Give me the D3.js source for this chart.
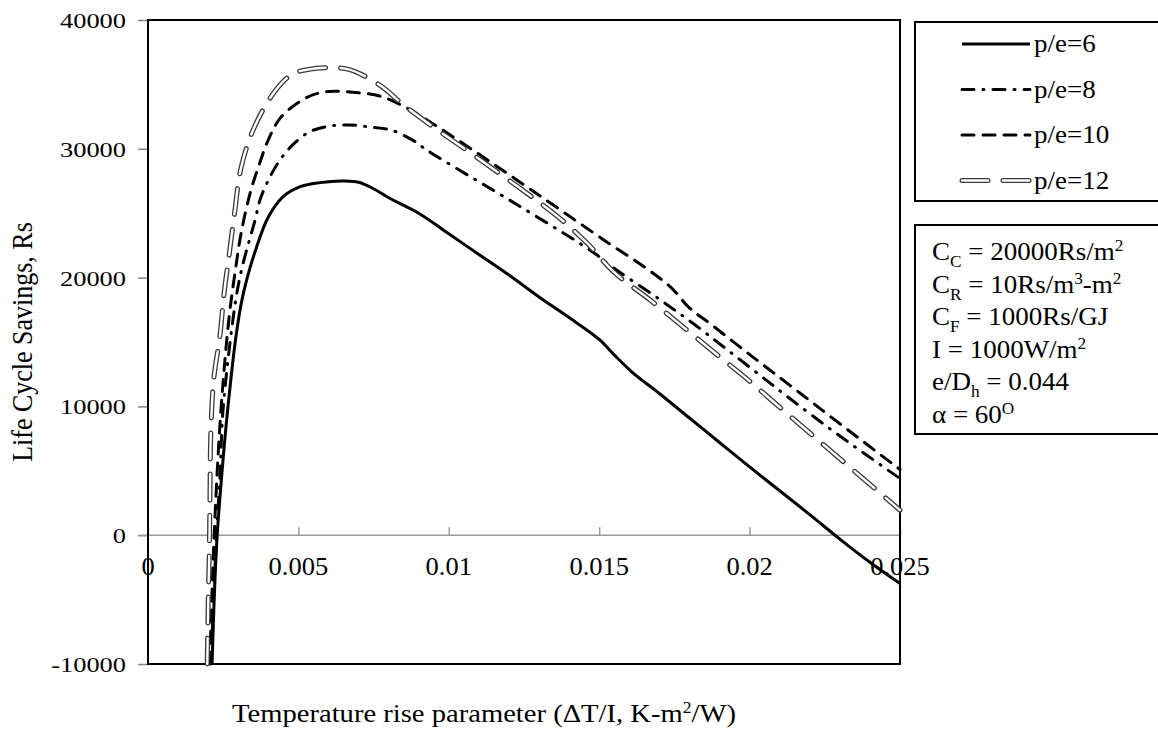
<!DOCTYPE html>
<html>
<head>
<meta charset="utf-8">
<script src="https://cdn.jsdelivr.net/npm/d3@7"></script>
<style>
  body { margin: 0; background: #fff; }
  text { font-family: "Liberation Serif", "Times New Roman", serif; fill: #000; }
</style>
</head>
<body>
<div id="chart"></div>
<script>
// chart data
var pe6X = [0.00213, 0.0022, 0.0023, 0.0025, 0.00266, 0.0029, 0.0031, 0.0033, 0.0036, 0.004, 0.0045, 0.005, 0.0055, 0.006, 0.0065, 0.007, 0.0075, 0.008, 0.009, 0.01, 0.011, 0.012, 0.013, 0.014, 0.015, 0.0155, 0.0161, 0.017, 0.018, 0.019, 0.02, 0.021, 0.022, 0.023, 0.024, 0.025];
var pe6Y = [-10000, -5000, 0, 6000, 10000, 15000, 18000, 20000, 22300, 24700, 26300, 27000, 27300, 27450, 27500, 27400, 26900, 26200, 25000, 23400, 21800, 20200, 18500, 16900, 15200, 14000, 12650, 11000, 9100, 7200, 5300, 3450, 1600, -300, -2100, -3750];

var pe8X = [0.0021, 0.00218, 0.00228, 0.0024, 0.0025, 0.0029, 0.0031, 0.00336, 0.00356, 0.00372, 0.004, 0.00436, 0.0048, 0.00535, 0.006, 0.0067, 0.0074, 0.0081, 0.0088, 0.0093, 0.0123, 0.0148, 0.0153, 0.017, 0.0182, 0.0192, 0.0203, 0.0214, 0.023, 0.025];
var pe8Y = [-10000, -5000, 0, 5000, 9900, 18000, 20500, 22830, 24460, 26010, 27560, 29040, 30280, 31290, 31750, 31850, 31680, 31440, 30670, 29850, 25620, 21970, 21050, 18320, 16300, 14500, 12500, 10500, 7700, 4400];

var pe10X = [0.00205, 0.00212, 0.0022, 0.00235, 0.0025, 0.0027, 0.0029, 0.0031, 0.0034, 0.0037, 0.004, 0.0044, 0.005, 0.0055, 0.006, 0.0065, 0.007, 0.0077, 0.0085, 0.0093, 0.0108, 0.013, 0.0152, 0.0167, 0.0174, 0.018, 0.0187, 0.0201, 0.0215, 0.023, 0.025];
var pe10Y = [-10000, -5000, 0, 7000, 12000, 17000, 20500, 23500, 26600, 28800, 30700, 32400, 33600, 34200, 34450, 34450, 34350, 34100, 33300, 32200, 29900, 26400, 22850, 20500, 19200, 17650, 16400, 13850, 11350, 8650, 5100];

var pe12X = [0.00197, 0.002, 0.00204, 0.00206, 0.00209, 0.00219, 0.00239, 0.00253, 0.0027, 0.00289, 0.00309, 0.00352, 0.00422, 0.0048, 0.0053, 0.006, 0.0067, 0.0077, 0.0085, 0.0093, 0.0113, 0.0136, 0.0146, 0.0155, 0.0167, 0.0178, 0.0189, 0.02, 0.021, 0.025];
var pe12Y = [-10000, -5500, -1000, 3000, 8000, 12200, 15450, 18800, 21800, 25230, 28490, 31600, 34470, 35800, 36150, 36300, 36150, 34950, 33400, 32000, 28730, 24770, 22670, 20400, 18250, 16150, 14050, 11960, 9940, 1950];

var seriesNames = ["p/e=6", "p/e=8", "p/e=10", "p/e=12"];
var xTicks = [0, 0.005, 0.01, 0.015, 0.02, 0.025];
var xTickLabels = ["0", "0.005", "0.01", "0.015", "0.02", "0.025"];
var yTicks = [-10000, 0, 10000, 20000, 30000, 40000];
var yTickLabels = ["-10000", "0", "10000", "20000", "30000", "40000"];

var svgWidth = 1158;
var svgHeight = 735;

var margin = { top: 20, right: 258, bottom: 71, left: 148 };
var width = svgWidth - margin.left - margin.right;
var height = svgHeight - margin.top - margin.bottom;

var svg = d3.select("#chart")
  .append("svg")
  .attr("width", svgWidth)
  .attr("height", svgHeight);

var chartGroup = svg.append("g")
  .attr("transform", `translate(${margin.left}, ${margin.top})`);

var xScale = d3.scaleLinear().domain([0, 0.025]).range([0, width]);
var yScale = d3.scaleLinear().domain([-10000, 40000]).range([height, 0]);

// the source picture is a bit stretched sideways, so text gets a small x scale
function wideText(g, x, y, sx, size, anchor, str) {
  return g.append("text")
    .attr("transform", `translate(${x}, ${y}) scale(${sx}, 1)`)
    .attr("text-anchor", anchor)
    .style("font-size", size + "px")
    .text(str);
}

// y axis ticks (gray) and labels
var leftAxis = d3.axisLeft(yScale).tickValues(yTicks).tickSize(10).tickFormat("");
var yAxis = chartGroup.append("g").call(leftAxis);
yAxis.select(".domain").remove();
yAxis.selectAll("line").attr("stroke", "#868686").attr("stroke-width", 1.5);

yTicks.forEach(function(v, i) {
  wideText(chartGroup, -22, yScale(v) + 8, 1.2, 22, "end", yTickLabels[i]);
});

// x axis sits at zero, ticks pointing up
var bottomAxis = d3.axisTop(xScale).tickValues(xTicks).tickSize(8).tickFormat("");
var xAxis = chartGroup.append("g")
  .attr("transform", `translate(0, ${yScale(0)})`)
  .call(bottomAxis);
xAxis.select(".domain").remove();
xAxis.selectAll("line").attr("stroke", "#9a9a9a").attr("stroke-width", 1.5);
chartGroup.append("line")
  .attr("x1", -8).attr("x2", width)
  .attr("y1", yScale(0)).attr("y2", yScale(0))
  .attr("stroke", "#9a9a9a").attr("stroke-width", 1.5);

xTicks.forEach(function(v, i) {
  wideText(chartGroup, xScale(v), yScale(0) + 40, 1.06, 25, "middle", xTickLabels[i]);
});

// plot frame
chartGroup.append("rect")
  .attr("width", width).attr("height", height)
  .attr("fill", "none").attr("stroke", "#000").attr("stroke-width", 2);

// curves
var line = d3.line()
  .x(d => xScale(d[0]))
  .y(d => yScale(d[1]))
  .curve(d3.curveCatmullRom.alpha(0.5));

function pairs(xs, ys) {
  return xs.map((x, i) => [x, ys[i]]);
}

var styles = [
  { dash: null, width: 3 },
  { dash: "12,9,1,9", width: 3 },
  { dash: "12,9", width: 3 },
  { dash: "26,15", width: 5, hollow: true }
];
var allData = [pairs(pe6X, pe6Y), pairs(pe8X, pe8Y), pairs(pe10X, pe10Y), pairs(pe12X, pe12Y)];

function drawStroke(g, pathD, st) {
  if (st.hollow) {
    g.append("path").attr("d", pathD).attr("fill", "none")
      .attr("stroke", "#3a3a3a").attr("stroke-width", st.width)
      .attr("stroke-dasharray", st.dash).attr("stroke-linecap", "round");
    g.append("path").attr("d", pathD).attr("fill", "none")
      .attr("stroke", "#fff").attr("stroke-width", 2.4)
      .attr("stroke-dasharray", st.dash).attr("stroke-linecap", "round");
  } else {
    g.append("path").attr("d", pathD).attr("fill", "none")
      .attr("stroke", "#000").attr("stroke-width", st.width)
      .attr("stroke-dasharray", st.dash)
      .attr("stroke-linecap", st.dash ? "round" : "butt");
  }
}

allData.forEach(function(data, i) {
  drawStroke(chartGroup, line(data), styles[i]);
});

// axis titles
svg.append("text")
  .attr("transform", `translate(32, ${margin.top + height / 2}) rotate(-90) scale(1, 1.15)`)
  .attr("text-anchor", "middle")
  .style("font-size", "26px")
  .text("Life Cycle Savings, Rs");

var xTitle = svg.append("text")
  .attr("transform", "translate(484, 722) scale(1.1, 1)")
  .attr("text-anchor", "middle")
  .style("font-size", "26px");
xTitle.append("tspan").text("Temperature rise parameter (ΔT/I, K-m");
xTitle.append("tspan").attr("dy", -9).style("font-size", "16px").text("2");
xTitle.append("tspan").attr("dy", 9).text("/W)");

// legend box
var legend = svg.append("g");
legend.append("rect")
  .attr("x", 915).attr("y", 22).attr("width", 260).attr("height", 179)
  .attr("fill", "#fff").attr("stroke", "#000").attr("stroke-width", 2);

seriesNames.forEach(function(name, i) {
  var ly = 44 + i * 45.5;
  drawStroke(legend, `M962,${ly}L1030,${ly}`, styles[i]);
  wideText(legend, 1034, ly + 8, 1.08, 25, "start", name);
});

// parameter box
var params = svg.append("g");
params.append("rect")
  .attr("x", 915).attr("y", 225).attr("width", 260).attr("height", 209)
  .attr("fill", "#fff").attr("stroke", "#000").attr("stroke-width", 2);

var paramLines = [
  [["C", 0], ["C", 1], [" = 20000Rs/m", 0], ["2", -1]],
  [["C", 0], ["R", 1], [" = 10Rs/m", 0], ["3", -1], ["-m", 0], ["2", -1]],
  [["C", 0], ["F", 1], [" = 1000Rs/GJ", 0]],
  [["I = 1000W/m", 0], ["2", -1]],
  [["e/D", 0], ["h", 1], [" = 0.044", 0]],
  [["α = 60", 0], ["O", -1]]
];

paramLines.forEach(function(parts, i) {
  var t = params.append("text")
    .attr("transform", `translate(932, ${260 + i * 32.5}) scale(1.08, 1)`)
    .style("font-size", "25px");
  var shift = 0;
  parts.forEach(function(p) {
    var target = p[1] === 1 ? 7 : p[1] === -1 ? -9 : 0;
    t.append("tspan")
      .attr("dy", target - shift)
      .style("font-size", p[1] === 0 ? "25px" : "16px")
      .text(p[0]);
    shift = target;
  });
});
</script>
</body>
</html>
